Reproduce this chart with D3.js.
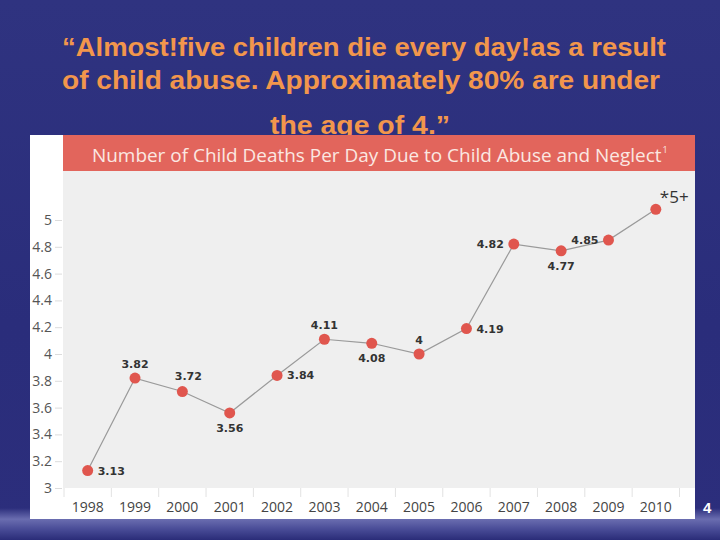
<!DOCTYPE html>
<html>
<head>
<meta charset="utf-8">
<script src="https://cdn.jsdelivr.net/npm/d3@7"></script>
<style>
  html, body { margin: 0; padding: 0; background: #2c2f7c; }
  svg { display: block; }
</style>
</head>
<body>
<svg id="chart" width="720" height="540"></svg>
<script>
// ---------------- data ----------------
const titleLines = [
  "\u201CAlmost!five children die every day!as a result",
  "of child abuse. Approximately 80% are under",
  "the age of 4.\u201D"
];
const chartTitle = "Number of Child Deaths Per Day Due to Child Abuse and Neglect";
const chartTitleNote = "1";
const years = ["1998","1999","2000","2001","2002","2003","2004","2005","2006","2007","2008","2009","2010"];
const deathsPerDay = [3.13, 3.82, 3.72, 3.56, 3.84, 4.11, 4.08, 4.00, 4.19, 4.82, 4.77, 4.85, 5.08];
const pointLabels = ["3.13","3.82","3.72","3.56","3.84","4.11","4.08","4","4.19","4.82","4.77","4.85","*5+"];
const yTicks = [3, 3.2, 3.4, 3.6, 3.8, 4, 4.2, 4.4, 4.6, 4.8, 5];
const pageNumber = "4";

// ---------------- layout (not data) ----------------
const labelSide = ["right","above","aboveR","below","right","above","below","above","right","left","below","left","star"];

const svg = d3.select("#chart");
const W = 720, H = 540;
const defs = svg.append("defs");

// background
const bg = defs.append("linearGradient").attr("id","bgGrad").attr("x1",0).attr("y1",0).attr("x2",0).attr("y2",1);
bg.append("stop").attr("offset","0%").attr("stop-color","#2f3380");
bg.append("stop").attr("offset","60%").attr("stop-color","#2a2d7b");
bg.append("stop").attr("offset","100%").attr("stop-color","#2c2e7c");
svg.append("rect").attr("width",W).attr("height",H).attr("fill","url(#bgGrad)");

const glow = defs.append("linearGradient").attr("id","glowGrad").attr("x1",0).attr("y1",0).attr("x2",0).attr("y2",1);
glow.append("stop").attr("offset","0%").attr("stop-color","#2c2e7c");
glow.append("stop").attr("offset","35%").attr("stop-color","#6a6db0");
glow.append("stop").attr("offset","65%").attr("stop-color","#4a4d98");
glow.append("stop").attr("offset","100%").attr("stop-color","#2a2c78");
svg.append("rect").attr("x",0).attr("y",508).attr("width",W).attr("height",32).attr("fill","url(#glowGrad)");

// title
const titleG = svg.append("g")
  .attr("font-family","'Liberation Sans', Arial, sans-serif")
  .attr("font-weight","bold")
  .attr("font-size",26)
  .attr("fill","#f2964c")
  .attr("text-anchor","middle");
const titleY = [56, 89, 134];
const titleX = [364, 361, 360];
const titleW = [604, 598, 180];
titleG.selectAll("text").data(titleLines).join("text")
  .attr("x",(d,i)=>titleX[i]).attr("y",(d,i)=>titleY[i])
  .attr("textLength",(d,i)=>titleW[i]).attr("lengthAdjust","spacingAndGlyphs")
  .text(d=>d);

// chart panel
svg.append("rect").attr("x",30).attr("y",135).attr("width",665).attr("height",384).attr("fill","#ffffff");
svg.append("rect").attr("x",63).attr("y",135).attr("width",632).attr("height",36).attr("fill","#e2655c");
const ht = svg.append("text").attr("x",92).attr("y",162)
  .attr("font-family","'Open Sans', 'Noto Sans', sans-serif")
  .attr("font-size",20).attr("fill","#fbe8e2");
const htMain = ht.append("tspan").text(chartTitle);
const natural = htMain.node().getComputedTextLength();
ht.attr("font-size", 20 * 570 / natural);
ht.append("tspan").attr("font-size",9).attr("dx",1).attr("dy",-9).text(chartTitleNote);

const plotX0 = 63, plotX1 = 695, plotY0 = 171, plotY1 = 488;
svg.append("rect").attr("x",plotX0).attr("y",plotY0).attr("width",plotX1-plotX0).attr("height",plotY1-plotY0).attr("fill","#efefef");

// scales
const x = d3.scaleBand().domain(years).range([64, 679.5]).padding(0);
const y = d3.scaleLinear().domain([3,5]).range([488, 220]);
const cx = d => x(d) + x.bandwidth()/2;

// y axis
const yAxis = d3.axisLeft(y).tickValues(yTicks).tickSize(7).tickPadding(3).tickFormat(d3.format("~g"));
const yg = svg.append("g").attr("transform","translate(62,0)").call(yAxis);
yg.select(".domain").remove();
yg.selectAll("line").attr("stroke","#dcdcdc");
yg.selectAll("text").attr("font-family","'Open Sans', 'Noto Sans', sans-serif").attr("font-size",14).attr("fill","#555");

// x axis
const xAxis = d3.axisBottom(x).tickSize(0).tickPadding(14);
const xg = svg.append("g").attr("transform",`translate(0,${plotY1})`).call(xAxis);
xg.select(".domain").remove();
xg.selectAll("text").attr("font-family","'Open Sans', 'Noto Sans', sans-serif").attr("font-size",14).attr("fill","#444");
// boundary ticks between categories
const bounds = years.map(d => x(d)).concat([x(years[years.length-1]) + x.bandwidth()]);
svg.append("g").selectAll("line").data(bounds).join("line")
  .attr("x1",d=>d).attr("x2",d=>d).attr("y1",plotY1).attr("y2",plotY1+9)
  .attr("stroke","#e2e2e2");

// line
const line = d3.line().x((d,i)=>cx(years[i])).y(d=>y(d));
svg.append("path").datum(deathsPerDay).attr("d",line)
  .attr("fill","none").attr("stroke","#9a9a9a").attr("stroke-width",1.2);

// points
svg.append("g").selectAll("circle").data(deathsPerDay).join("circle")
  .attr("cx",(d,i)=>cx(years[i])).attr("cy",d=>y(d)).attr("r",5.5).attr("fill","#e0564e");

// point labels
const offs = {
  right:  {dx: 10, dy: 4, anchor: "start"},
  left:   {dx: -10, dy: 4, anchor: "end"},
  above:  {dx: 0, dy: -10, anchor: "middle"},
  aboveR: {dx: 6, dy: -12, anchor: "middle"},
  below:  {dx: 0, dy: 19, anchor: "middle"},
  star:   {dx: 4, dy: -6, anchor: "start"}
};
svg.append("g").selectAll("text").data(deathsPerDay).join("text")
  .attr("x",(d,i)=>cx(years[i]) + offs[labelSide[i]].dx)
  .attr("y",(d,i)=>y(d) + offs[labelSide[i]].dy)
  .attr("text-anchor",(d,i)=>offs[labelSide[i]].anchor)
  .attr("font-family",(d,i)=>labelSide[i]==="star" ? "'Open Sans', sans-serif" : "'DejaVu Sans', Verdana, sans-serif")
  .attr("font-weight",(d,i)=>labelSide[i]==="star" ? "normal" : "bold")
  .attr("font-size",(d,i)=>labelSide[i]==="star" ? 17 : 11)
  .attr("fill","#333")
  .text((d,i)=>pointLabels[i]);

// page number
svg.append("text").attr("x",703).attr("y",513)
  .attr("font-family","'Liberation Sans', Arial, sans-serif").attr("font-weight","bold")
  .attr("font-size",15).attr("fill","#ffffff").text(pageNumber);
</script>
</body>
</html>
